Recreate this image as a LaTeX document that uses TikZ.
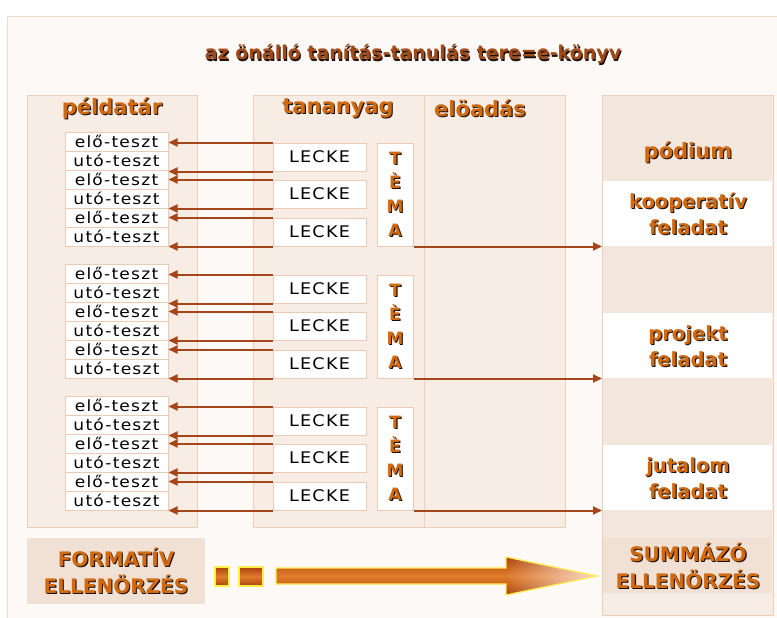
\documentclass[tikz,border=0pt]{standalone}
\usepackage{fontspec}
\setmainfont{DejaVu Sans}
\newfontfamily\lblfont[FakeStretch=1.1,LetterSpace=8]{DejaVu Sans}
\usetikzlibrary{arrows.meta,fadings}

\definecolor{framec}{HTML}{F0DCCB}
\definecolor{pagefill}{HTML}{FDF9F6}
\definecolor{colfill}{HTML}{F7EDE5}
\definecolor{colline}{HTML}{EBCFBA}
\definecolor{boxline}{HTML}{EBCBB3}
\definecolor{arrc}{HTML}{A4451A}
\definecolor{hdtext}{HTML}{D06A12}
\definecolor{tittext}{HTML}{A04A18}
\definecolor{band}{HTML}{F3E6DC}
\definecolor{bandd}{HTML}{F1E1D4}
\definecolor{shadowc}{HTML}{1E0F06}
\definecolor{arrdark}{HTML}{A9420C}
\definecolor{arrmid}{HTML}{E27C2C}
\definecolor{tippale}{HTML}{F6D9CC}
\definecolor{rimc}{HTML}{FFEF4A}

% orange lettering with a dark drop shadow
\newcommand{\shd}[1]{\leavevmode\rlap{\kern1.1pt\raisebox{-1.1pt}{\color{shadowc}#1}}#1}

\tikzfading[name=tipfade, left color=transparent!100, right color=transparent!0]

\tikzset{
  col/.style={draw=colline, line width=1.2pt, fill=colfill, inner sep=0pt, anchor=north west},
  testbox/.style={draw=boxline, line width=1pt, fill=white, minimum width=103pt,
    minimum height=19pt, inner sep=0pt, text=black,
    font=\lblfont\fontsize{15.5}{16}\selectfont},
  leckebox/.style={draw=boxline, line width=1pt, fill=white, minimum width=93pt,
    minimum height=28pt, inner sep=0pt, text=black,
    font=\lblfont\fontsize{16}{16}\selectfont},
  temabox/.style={draw=boxline, line width=1pt, fill=white, minimum width=36pt,
    minimum height=103pt, inner sep=0pt, align=center, text=hdtext,
    font=\bfseries\fontsize{17}{24}\selectfont},
  lnk/.style={draw=arrc, line width=2pt, -{Triangle[length=9pt,width=8pt]}},
  hd/.style={text=hdtext, font=\bfseries\fontsize{21}{24}\selectfont},
  podtext/.style={text=hdtext, align=center, font=\bfseries\fontsize{19.5}{26}\selectfont},
  checktext/.style={text=hdtext, align=center, font=\bfseries\fontsize{20}{27}\selectfont},
}

\begin{document}
\begin{tikzpicture}[x=1pt,y=-1pt]
\useasboundingbox (0,0) rectangle (777,618);
\clip (0,0) rectangle (777,618);

% outer frame of the page
\draw[framec, line width=1pt, fill=pagefill] (7,17) rectangle (800,640);

% title
\node[text=tittext, font=\bfseries\fontsize{19}{22}\selectfont] (title) at (413,55)
  {\shd{az önálló tanítás-tanulás tere=e-könyv}};

% columns
\node[col, minimum width=170pt, minimum height=432pt] (peld) at (27,95) {};
\node[col, minimum width=171pt, minimum height=432pt] (tan) at (253,95) {};
\node[col, minimum width=141pt, minimum height=432pt] (elo) at (424,95) {};
\node[col, minimum width=171pt, minimum height=520pt] (pod) at (602,95) {};

% bands of the podium column
\fill[band] (603,96) rectangle (772,181);
\fill[white] (603,181) rectangle (772,246);
\fill[band] (603,246) rectangle (772,313);
\fill[white] (603,313) rectangle (772,378);
\fill[band] (603,378) rectangle (772,445);
\fill[white] (603,445) rectangle (772,510);
\fill[band] (603,510) rectangle (772,538);
\fill[bandd] (603,538) rectangle (772,593);

% column headings
\node[hd] (h-peld) at (112,109) {\shd{példatár}};
\node[hd] (h-tan) at (338,109) {\shd{tananyag}};
\node[hd] (h-elo) at (480,109) {\shd{elöadás}};
\node[hd] (h-pod) at (688,153) {\shd{pódium}};

% podium tasks
\node[podtext] (p-koop) at (688,214) {\shd{kooperatív}\\\shd{feladat}};
\node[podtext] (p-proj) at (688,347) {\shd{projekt}\\\shd{feladat}};
\node[podtext] (p-jut) at (688,479) {\shd{jutalom}\\\shd{feladat}};

% test cards, lessons and topics, three blocks
\foreach \g in {0,1,2} {
  \foreach \r/\lab in {0/elő-teszt,1/utó-teszt,2/elő-teszt,3/utó-teszt,4/elő-teszt,5/utó-teszt} {
    \pgfmathsetmacro\yy{141.5+132*\g+19*\r}
    \node[testbox] (t-\g-\r) at (116.5,\yy) {\lab};
  }
  \foreach \k/\dy in {0/0,1/37,2/75} {
    \pgfmathsetmacro\yy{157+132*\g+\dy}
    \node[leckebox] (l-\g-\k) at (319.5,\yy) {LECKE};
    \draw[lnk] (l-\g-\k.north west) -- (l-\g-\k.north west -| t-\g-0.east);
    \draw[lnk] (l-\g-\k.south west) -- (l-\g-\k.south west -| t-\g-0.east);
  }
  \pgfmathsetmacro\yy{194.5+132*\g}
  \node[temabox] (m-\g) at (395,\yy) {\shd{T}\\\shd{È}\\\shd{M}\\\shd{A}};
  \draw[lnk] (m-\g.south east) -- (m-\g.south east -| pod.west);
}

% formative and summative checks
\node[fill=bandd, minimum width=178pt, minimum height=66pt, inner sep=0pt,
  checktext] (form) at (116,571) {\shd{FORMATÍV}\\\shd{ELLENÖRZÉS}};
\node[checktext] (summ) at (688,566) {\shd{SUMMÁZÓ}\\\shd{ELLENÖRZÉS}};

% broad arrow leading from the formative to the summative check
\shade[top color=arrdark, bottom color=arrdark, middle color=arrmid]
  (215,567) rectangle (229,586);
\shade[top color=arrdark, bottom color=arrdark, middle color=arrmid]
  (239,567) rectangle (263,586);
\shade[top color=arrdark, bottom color=arrdark, middle color=arrmid]
  (276,568) -- (506,568) -- (506,557) -- (597,576) -- (506,595) -- (506,584) -- (276,584) -- cycle;
\fill[tippale, path fading=tipfade] (506,557) -- (597,576) -- (506,595) -- cycle;
\draw[rimc, line width=1.2pt] (215,567) rectangle (229,586);
\draw[rimc, line width=1.2pt] (239,567) rectangle (263,586);
\draw[rimc, line width=1.2pt]
  (276,568) -- (506,568) -- (506,557) -- (597,576) -- (506,595) -- (506,584) -- (276,584) -- cycle;
\end{tikzpicture}
\end{document}
